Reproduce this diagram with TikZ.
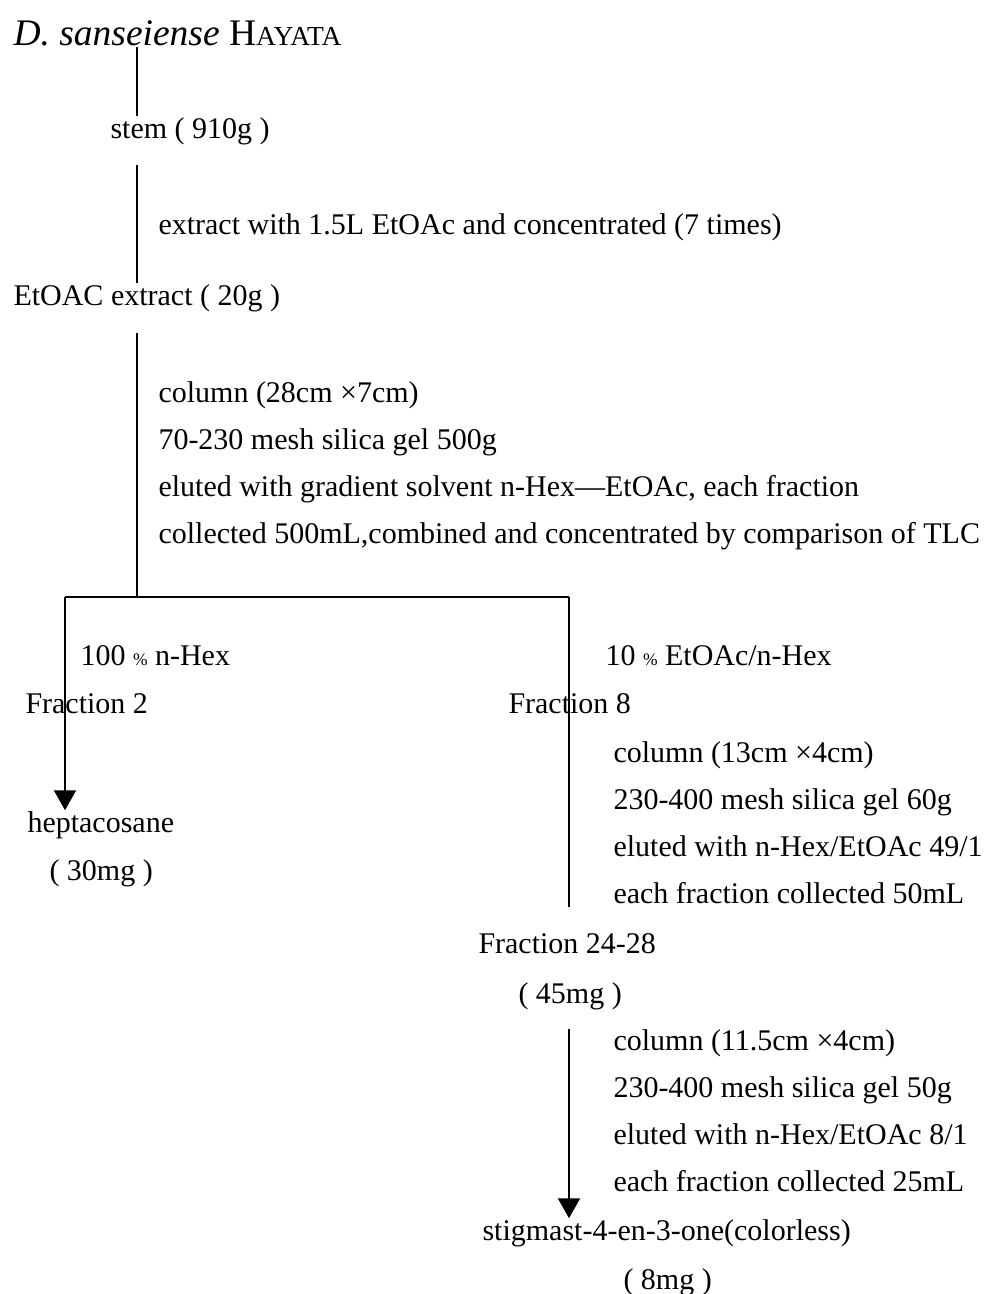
\documentclass[tikz,border=0pt]{standalone}
\usepackage{fontspec}
\setmainfont{Liberation Serif}
\usetikzlibrary{arrows.meta}
\begin{document}
\begin{tikzpicture}[x=0.4pt, y=-0.4pt,
		txt/.style={anchor=base west, inner sep=0pt, text height=8.5pt, text depth=2.5pt, font=\fontsize{12}{14}\selectfont},
		link/.style={line width=0.8pt},
		tip/.style={link, -{Triangle[width=8.8pt,length=8pt]}}]
	\useasboundingbox (0,0) rectangle (988,1294);
	\coordinate (trunk) at (137,597);
	\coordinate (lbr) at (65,597);
	\coordinate (rbr) at (569,597);
	% main column
	\node[txt, font=\fontsize{15}{18}\selectfont, text height=10.5pt, text depth=0.5pt] (plant) at (13,45) {\textit{D. sanseiense} H{\fontsize{11}{14}\selectfont AYATA}};
	\node[txt] (stem) at (110,138) {stem ( 910g )};
	\node[txt] (extr) at (158,234) {extract with 1.5L EtOAc and concentrated (7 times)};
	\node[txt] (crude) at (13,305) {EtOAC extract ( 20g )};
	\foreach \t [count=\i] in {column (28cm ×7cm), 70-230 mesh silica gel 500g, {eluted with gradient solvent n-Hex—EtOAc, each fraction}, {collected 500mL,combined and concentrated by comparison of TLC}}
		\node[txt] (colA\i) at (158,{402+47*(\i-1)}) {\t};
	% left branch
	\node[txt] (hexA) at (80,665) {100 {\scriptsize\%} n-Hex};
	\node[txt] (fr2) at (25,713) {Fraction 2};
	\node[txt] (hep) at (27,832) {heptacosane};
	\node[txt] (hepw) at (49,880) {( 30mg )};
	% right branch
	\node[txt] (hexB) at (605,665) {10 {\scriptsize\%} EtOAc/n-Hex};
	\node[txt] (fr8) at (508,713) {Fraction 8};
	\foreach \t [count=\i] in {column (13cm ×4cm), 230-400 mesh silica gel 60g, eluted with n-Hex/EtOAc 49/1, each fraction collected 50mL}
		\node[txt] (colB\i) at (613,{762+47*(\i-1)}) {\t};
	\node[txt] (f24) at (478,953) {Fraction 24-28};
	\node[txt] (f24w) at (518,1003) {( 45mg )};
	\foreach \t [count=\i] in {column (11.5cm ×4cm), 230-400 mesh silica gel 50g, eluted with n-Hex/EtOAc 8/1, each fraction collected 25mL}
		\node[txt] (colC\i) at (613,{1050+47*(\i-1)}) {\t};
	\node[txt] (stig) at (482,1240) {stigmast-4-en-3-one(colorless)};
	\node[txt] (stigw) at (623,1289) {( 8mg )};
	% connectors
	\draw[link] (plant.south -| trunk) -- (stem.north -| trunk);
	\draw[link, shorten <=8pt] (stem.south -| trunk) -- (crude.north -| trunk);
	\draw[link, shorten <=8.4pt] (crude.south -| trunk) -- (trunk);
	\draw[link] (lbr) -- (rbr);
	\draw[tip] (lbr) -- (lbr |- hep.north);
	\draw[link, shorten >=9.6pt] (rbr) -- (rbr |- f24.north);
	\draw[tip, shorten <=7.6pt] (rbr |- f24w.south) -- (rbr |- stig.north);
\end{tikzpicture}
\end{document}
